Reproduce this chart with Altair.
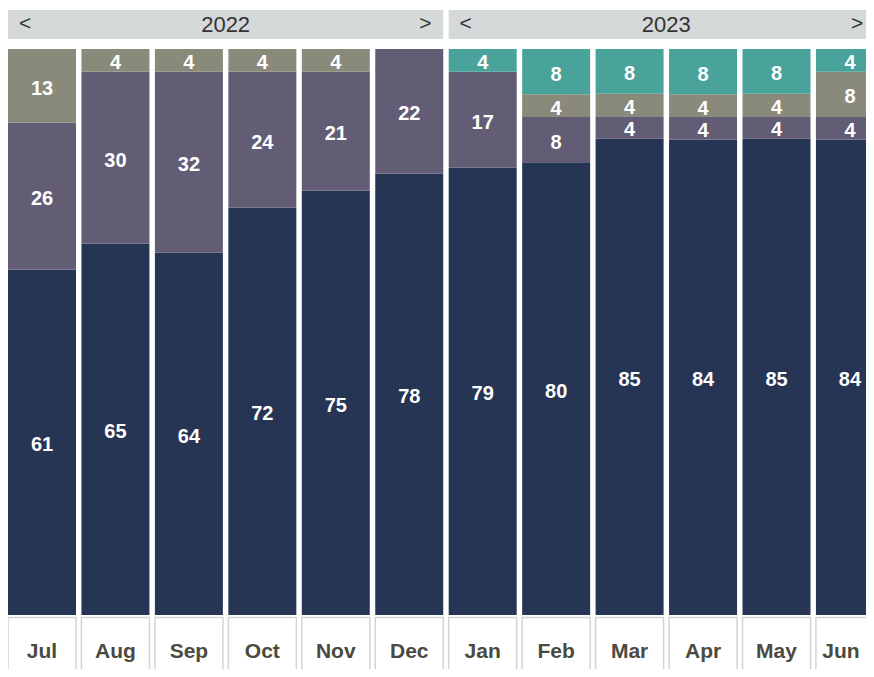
import altair as alt
import pandas as pd

months = ["Jul", "Aug", "Sep", "Oct", "Nov", "Dec", "Jan", "Feb", "Mar", "Apr", "May", "Jun"]
years = ["2022", "2023"]
series = ["S1", "S2", "S3", "S4"]
s1 = [61, 65, 64, 72, 75, 78, 79, 80, 85, 84, 85, 84]
s2 = [26, 30, 32, 24, 21, 22, 17, 8, 4, 4, 4, 4]
s3 = [13, 4, 4, 4, 4, 0, 0, 4, 4, 4, 4, 8]
s4 = [0, 0, 0, 0, 0, 0, 4, 8, 8, 8, 8, 4]
colors = ["#263554", "#625c75", "#8a8a7a", "#4aa39a"]

STEP = 73.45          # pixels per month
BAR = 68 / STEP       # bar width as a fraction of the step
W, H = 858, 661
XMAX = W / STEP       # visible end of the x scale

rows = []
for i, m in enumerate(months):
    vals = [s1[i], s2[i], s3[i], s4[i]]
    tot = sum(vals)
    cum = 0
    for s, v in zip(series, vals):
        if v > 0:
            rows.append({"month": m, "i": i, "i2": i + BAR, "ic": i + BAR / 2,
                         "series": s, "value": v,
                         "y0": cum / tot, "y1": (cum + v) / tot,
                         "ym": (cum + v / 2) / tot})
        cum += v
seg = pd.DataFrame(rows)

mdf = pd.DataFrame({"month": months, "i": list(range(12)),
                    "i2": [k + BAR for k in range(12)],
                    # label centred on the visible part of its box
                    "ic": [(k + min(k + BAR, XMAX)) / 2 for k in range(12)]})
hb = [5 + BAR, 11 + BAR]
hdf = pd.DataFrame({"year": years, "a": [0, 6], "b": hb,
                    "c": [(5 + BAR) / 2, 6 + (5 + BAR) / 2],
                    "r": [min(b - 18 / STEP, XMAX - 9 / STEP) for b in hb]})

xs = alt.Scale(domain=[0, XMAX], nice=False, zero=False)
ys = alt.Scale(domain=[0, 1], range=[607, 41], nice=False, zero=False)
FONT = "Liberation Sans"

bars = alt.Chart(seg).mark_rect().encode(
    x=alt.X("i:Q", scale=xs, axis=None), x2="i2:Q",
    y=alt.Y("y0:Q", scale=ys, axis=None), y2="y1:Q",
    color=alt.Color("series:N", scale=alt.Scale(domain=series, range=colors), legend=None),
)
vals = alt.Chart(seg).mark_text(font=FONT, fontSize=20, fontWeight="bold", color="white",
                                baseline="middle", align="center", dy=3).encode(
    x=alt.X("ic:Q", scale=xs, axis=None),
    y=alt.Y("ym:Q", scale=ys, axis=None),
    text="value:Q",
)
boxes = alt.Chart(mdf).mark_rect(fill="white", stroke="#d4d4d4", strokeWidth=1.5).encode(
    x=alt.X("i:Q", scale=xs, axis=None), x2="i2:Q",
    y=alt.value(609.5), y2=alt.value(720),
)
mlab = alt.Chart(mdf).mark_text(font=FONT, fontSize=21, fontWeight="bold", color="#4a4a40",
                                baseline="middle", align="center").encode(
    x=alt.X("ic:Q", scale=xs, axis=None), y=alt.value(644), text="month:N",
)
hbox = alt.Chart(hdf).mark_rect(fill="#d5d9d9").encode(
    x=alt.X("a:Q", scale=xs, axis=None), x2="b:Q",
    y=alt.value(2), y2=alt.value(31),
)
htxt = alt.Chart(hdf).mark_text(font=FONT, fontSize=22, color="#333333",
                                baseline="middle", align="center").encode(
    x=alt.X("c:Q", scale=xs, axis=None), y=alt.value(16.5), text="year:N",
)
hl = alt.Chart(hdf).mark_text(font=FONT, fontSize=21, color="#333333", text="<", dx=17,
                              baseline="middle", align="center").encode(
    x=alt.X("a:Q", scale=xs, axis=None), y=alt.value(16),
)
hr = alt.Chart(hdf).mark_text(font=FONT, fontSize=21, color="#333333", text=">",
                              baseline="middle", align="center").encode(
    x=alt.X("r:Q", scale=xs, axis=None), y=alt.value(16),
)

chart = alt.layer(bars, vals, boxes, mlab, hbox, htxt, hl, hr).properties(
    width=W, height=H, padding=0, autosize=alt.AutoSizeParams(type="none"),
).configure_view(stroke=None)

chart.save("out.html", embed_options={"renderer": "svg", "actions": False})
